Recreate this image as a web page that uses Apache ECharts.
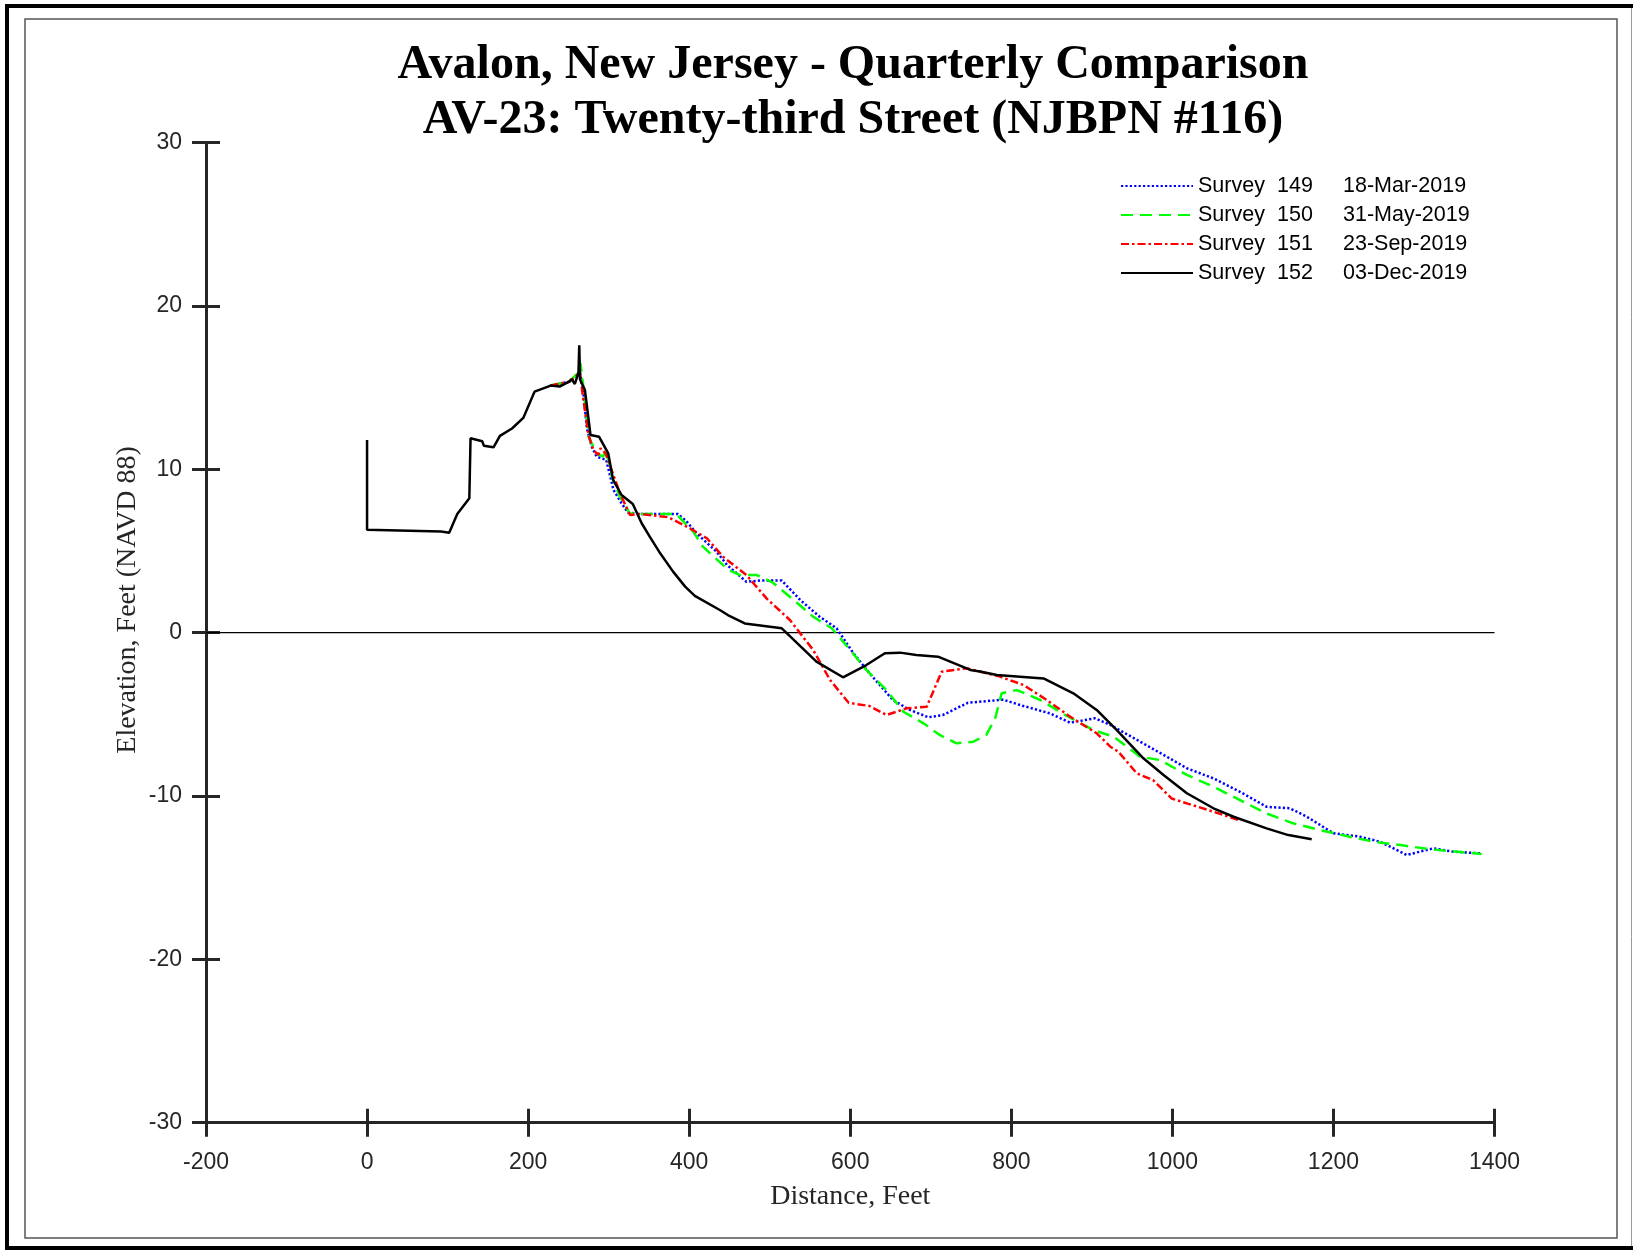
<!DOCTYPE html>
<html>
<head>
<meta charset="utf-8">
<script src="https://cdn.jsdelivr.net/npm/echarts@6/dist/echarts.min.js"></script>
<style>
  html, body { margin: 0; padding: 0; background: #fff; }
  #main { width: 1633px; height: 1250px; }
</style>
</head>
<body>
<div id="main"></div>
<script>
// survey labels
var surveyIds = ['149', '150', '151', '152'];
var surveyDates = ['18-Mar-2019', '31-May-2019', '23-Sep-2019', '03-Dec-2019'];

// axis ticks
var xTicks = { min: -200, max: 1400, step: 200 };
var yTicks = { min: -30, max: 30, step: 10 };

// [distance ft, elevation ft]
var survey149 = [
    [228, 15.13], [251, 15.37], [262, 15.8], [264, 16.0], [268, 15.0], [273, 12.5], [279, 11.39],
    [285, 10.78], [297, 10.58], [302, 9.55], [306, 8.74], [316, 7.92], [324, 7.35], [339, 7.27],
    [386, 7.27], [397, 6.8], [409, 6.09], [434, 4.96], [447, 4.15], [471, 3.12], [488, 3.19],
    [515, 3.19], [538, 2.0], [562, 0.98], [583, 0.27], [604, -1.26], [624, -2.49], [653, -4.12],
    [674, -4.73], [697, -5.18], [715, -5.04], [746, -4.29], [790, -4.1], [811, -4.43], [848, -4.94],
    [873, -5.51], [904, -5.24], [923, -5.65], [960, -6.67], [993, -7.59], [1018, -8.3], [1051, -8.92],
    [1084, -9.74], [1117, -10.66], [1146, -10.75], [1167, -11.27], [1187, -11.88], [1200, -12.28],
    [1233, -12.49], [1258, -12.8], [1291, -13.61], [1324, -13.2], [1349, -13.41], [1384, -13.51]
];
var survey150 = [
    [228, 15.13], [251, 15.37], [262, 15.9], [265, 16.5], [268, 15.3], [275, 12.0], [285, 10.98],
    [293, 10.78], [297, 11.19], [304, 9.55], [314, 8.33], [326, 7.31], [339, 7.27], [384, 7.27],
    [405, 6.19], [417, 5.27], [428, 4.76], [449, 3.84], [463, 3.53], [484, 3.53], [504, 3.06],
    [525, 2.2], [554, 0.98], [577, 0.27], [600, -1.06], [620, -2.28], [645, -3.51], [666, -4.84],
    [691, -5.55], [711, -6.26], [732, -6.77], [753, -6.67], [769, -6.26], [780, -5.24], [788, -3.71],
    [807, -3.51], [836, -4.12], [869, -5.1], [902, -5.96], [927, -6.37], [960, -7.59], [985, -7.8],
    [1018, -8.71], [1051, -9.43], [1084, -10.25], [1117, -11.07], [1150, -11.67], [1183, -12.08],
    [1216, -12.45], [1250, -12.8], [1283, -13.0], [1320, -13.26], [1384, -13.55]
];
var survey151 = [
    [228, 15.13], [251, 15.37], [262, 15.8], [264, 16.0], [268, 14.5], [275, 12.1], [281, 11.19],
    [287, 10.88], [290, 11.29], [296, 11.0], [314, 8.54], [326.5, 7.21], [339, 7.27], [374, 7.07],
    [401, 6.39], [422, 5.78], [442, 4.65], [471, 3.53], [496, 2.1], [525, 0.78], [554, -1.06],
    [575, -2.9], [598, -4.29], [624, -4.49], [645, -5.04], [670, -4.63], [695, -4.53], [713.5, -2.39],
    [744.5, -2.18], [786, -2.69], [815, -3.2], [844, -4.12], [873, -5.14], [906, -6.16], [923, -6.98],
    [933, -7.29], [956, -8.62], [976, -9.02], [999, -10.15], [1018, -10.45], [1051, -10.96], [1082, -11.47]
];
var survey152 = [
    [0, 11.8], [0, 6.3], [92, 6.2], [102, 6.12], [112, 7.27], [127, 8.23], [128.5, 11.9], [143, 11.72],
    [145, 11.45], [157, 11.35], [165, 12.05], [180, 12.5], [194, 13.15], [208, 14.76], [228, 15.13],
    [239, 15.07], [251, 15.37], [254, 15.53], [258, 15.23], [262.5, 15.9], [263.5, 17.6], [264.5, 15.5],
    [270.5, 14.86], [277.5, 12.1], [288, 12.0], [299.5, 10.98], [305.5, 9.35], [316, 8.43], [330, 7.88],
    [341, 6.7], [351, 5.88], [364, 4.86], [380, 3.74], [395, 2.82], [407, 2.25], [438, 1.39],
    [448, 1.08], [469, 0.57], [515, 0.27], [558, -1.77], [591, -2.73], [620, -1.98], [643, -1.26],
    [662, -1.22], [682, -1.37], [709, -1.47], [749, -2.28], [761, -2.37], [782, -2.59], [840, -2.8],
    [877, -3.71], [906, -4.73], [931, -5.96], [964, -7.69], [989, -8.71], [1018, -9.83], [1051, -10.75],
    [1076, -11.27], [1117, -11.98], [1144, -12.39], [1173, -12.65]
];
var zeroLine = [[-200, 0], [1400, 0]];

var axisColor = '#262626';
var sans = 'Liberation Sans, Arial, sans-serif';
var serif = 'Liberation Serif, Times New Roman, serif';

function profile(idx, data, color, dash) {
    return {
        name: 'Survey ' + surveyIds[idx],
        type: 'line',
        data: data,
        symbol: 'none',
        showSymbol: false,
        animation: false,
        lineStyle: { color: color, width: 2.5, type: dash, cap: 'butt' },
        itemStyle: { color: color },
        z: 3 + idx
    };
}

function plainNum(v) { return String(v); }

function baseX(inside, labels) {
    return {
        type: 'value', min: xTicks.min, max: xTicks.max, interval: xTicks.step,
        position: 'bottom',
        axisLine: { show: labels, onZero: false, lineStyle: { color: axisColor, width: 3 } },
        axisTick: { show: true, inside: inside, length: 14, lineStyle: { color: axisColor, width: 3 } },
        axisLabel: { show: labels, margin: 28, color: axisColor, fontFamily: sans, fontSize: 23, formatter: plainNum },
        splitLine: { show: false }
    };
}
function baseY(inside, labels) {
    return {
        type: 'value', min: yTicks.min, max: yTicks.max, interval: yTicks.step,
        position: 'left',
        axisLine: { show: labels, onZero: false, lineStyle: { color: axisColor, width: 3 } },
        axisTick: { show: true, inside: inside, length: 14, lineStyle: { color: axisColor, width: 3 } },
        axisLabel: { show: labels, margin: 24, color: axisColor, fontFamily: sans, fontSize: 23, formatter: plainNum },
        splitLine: { show: false }
    };
}

var myChart = echarts.init(document.getElementById('main'), null, { renderer: 'canvas' });

var xMain = baseX(false, true);
xMain.name = 'Distance, Feet';
xMain.nameLocation = 'middle';
xMain.nameGap = 60;
xMain.nameTextStyle = { color: axisColor, fontFamily: serif, fontSize: 28 };

var option = {
    backgroundColor: '#fff',
    animation: false,
    title: {
        text: 'Avalon, New Jersey - Quarterly Comparison\nAV-23: Twenty-third Street (NJBPN #116)',
        left: 853, top: 38, textAlign: 'center', padding: 0,
        textStyle: { fontFamily: serif, fontWeight: 'bold', fontSize: 48, lineHeight: 55, color: '#000' }
    },
    legend: {
        orient: 'vertical',
        left: 1120, top: 175, padding: 0,
        itemWidth: 72, itemHeight: 14, itemGap: 7,
        itemStyle: { color: 'rgba(0,0,0,0)', borderWidth: 0, opacity: 0 },
        data: surveyIds.map(function (s) { return 'Survey ' + s; }),
        formatter: function (name) {
            var i = surveyIds.indexOf(name.split(' ')[1]);
            return '{a|Survey}{b|' + surveyIds[i] + '}{c|' + surveyDates[i] + '}';
        },
        textStyle: {
            fontFamily: sans, fontSize: 21.5, color: '#000',
            rich: {
                a: { width: 79, fontFamily: sans, fontSize: 21.5, lineHeight: 22, color: '#000' },
                b: { width: 66, fontFamily: sans, fontSize: 21.5, lineHeight: 22, color: '#000' },
                c: { fontFamily: sans, fontSize: 21.5, lineHeight: 22, color: '#000' }
            }
        }
    },
    grid: { left: 206, right: 138.5, top: 142.7, bottom: 127.3, containLabel: false },
    xAxis: [xMain, baseX(true, false)],
    yAxis: [baseY(false, true), baseY(true, false)],
    graphic: [
        { type: 'rect', shape: { x: 7, y: 6, width: 1640, height: 1242 }, style: { fill: 'none', stroke: '#000', lineWidth: 4 }, silent: true },
        { type: 'line', shape: { x1: 1631.5, y1: 8, x2: 1631.5, y2: 1246 }, style: { stroke: '#999', lineWidth: 1 }, silent: true },
        { type: 'rect', shape: { x: 25, y: 19, width: 1592, height: 1219 }, style: { fill: 'none', stroke: '#555', lineWidth: 1.5 }, silent: true },
        {
            type: 'text', x: 128, y: 600, rotation: Math.PI / 2, silent: true,
            style: { text: 'Elevation, Feet (NAVD 88)', fill: axisColor, font: '28px ' + serif, align: 'center', verticalAlign: 'middle' }
        }
    ],
    series: [
        {
            name: 'zero', type: 'line', data: zeroLine, symbol: 'none', animation: false,
            lineStyle: { color: '#000', width: 1.2 }, z: 2, silent: true
        },
        profile(0, survey149, '#0000ff', [2.2, 2.2]),
        profile(1, survey150, '#00ff00', [12, 7]),
        profile(2, survey151, '#ff0000', [8, 3, 2.5, 3]),
        profile(3, survey152, '#000000', 'solid')
    ]
};

myChart.setOption(option);
</script>
</body>
</html>
